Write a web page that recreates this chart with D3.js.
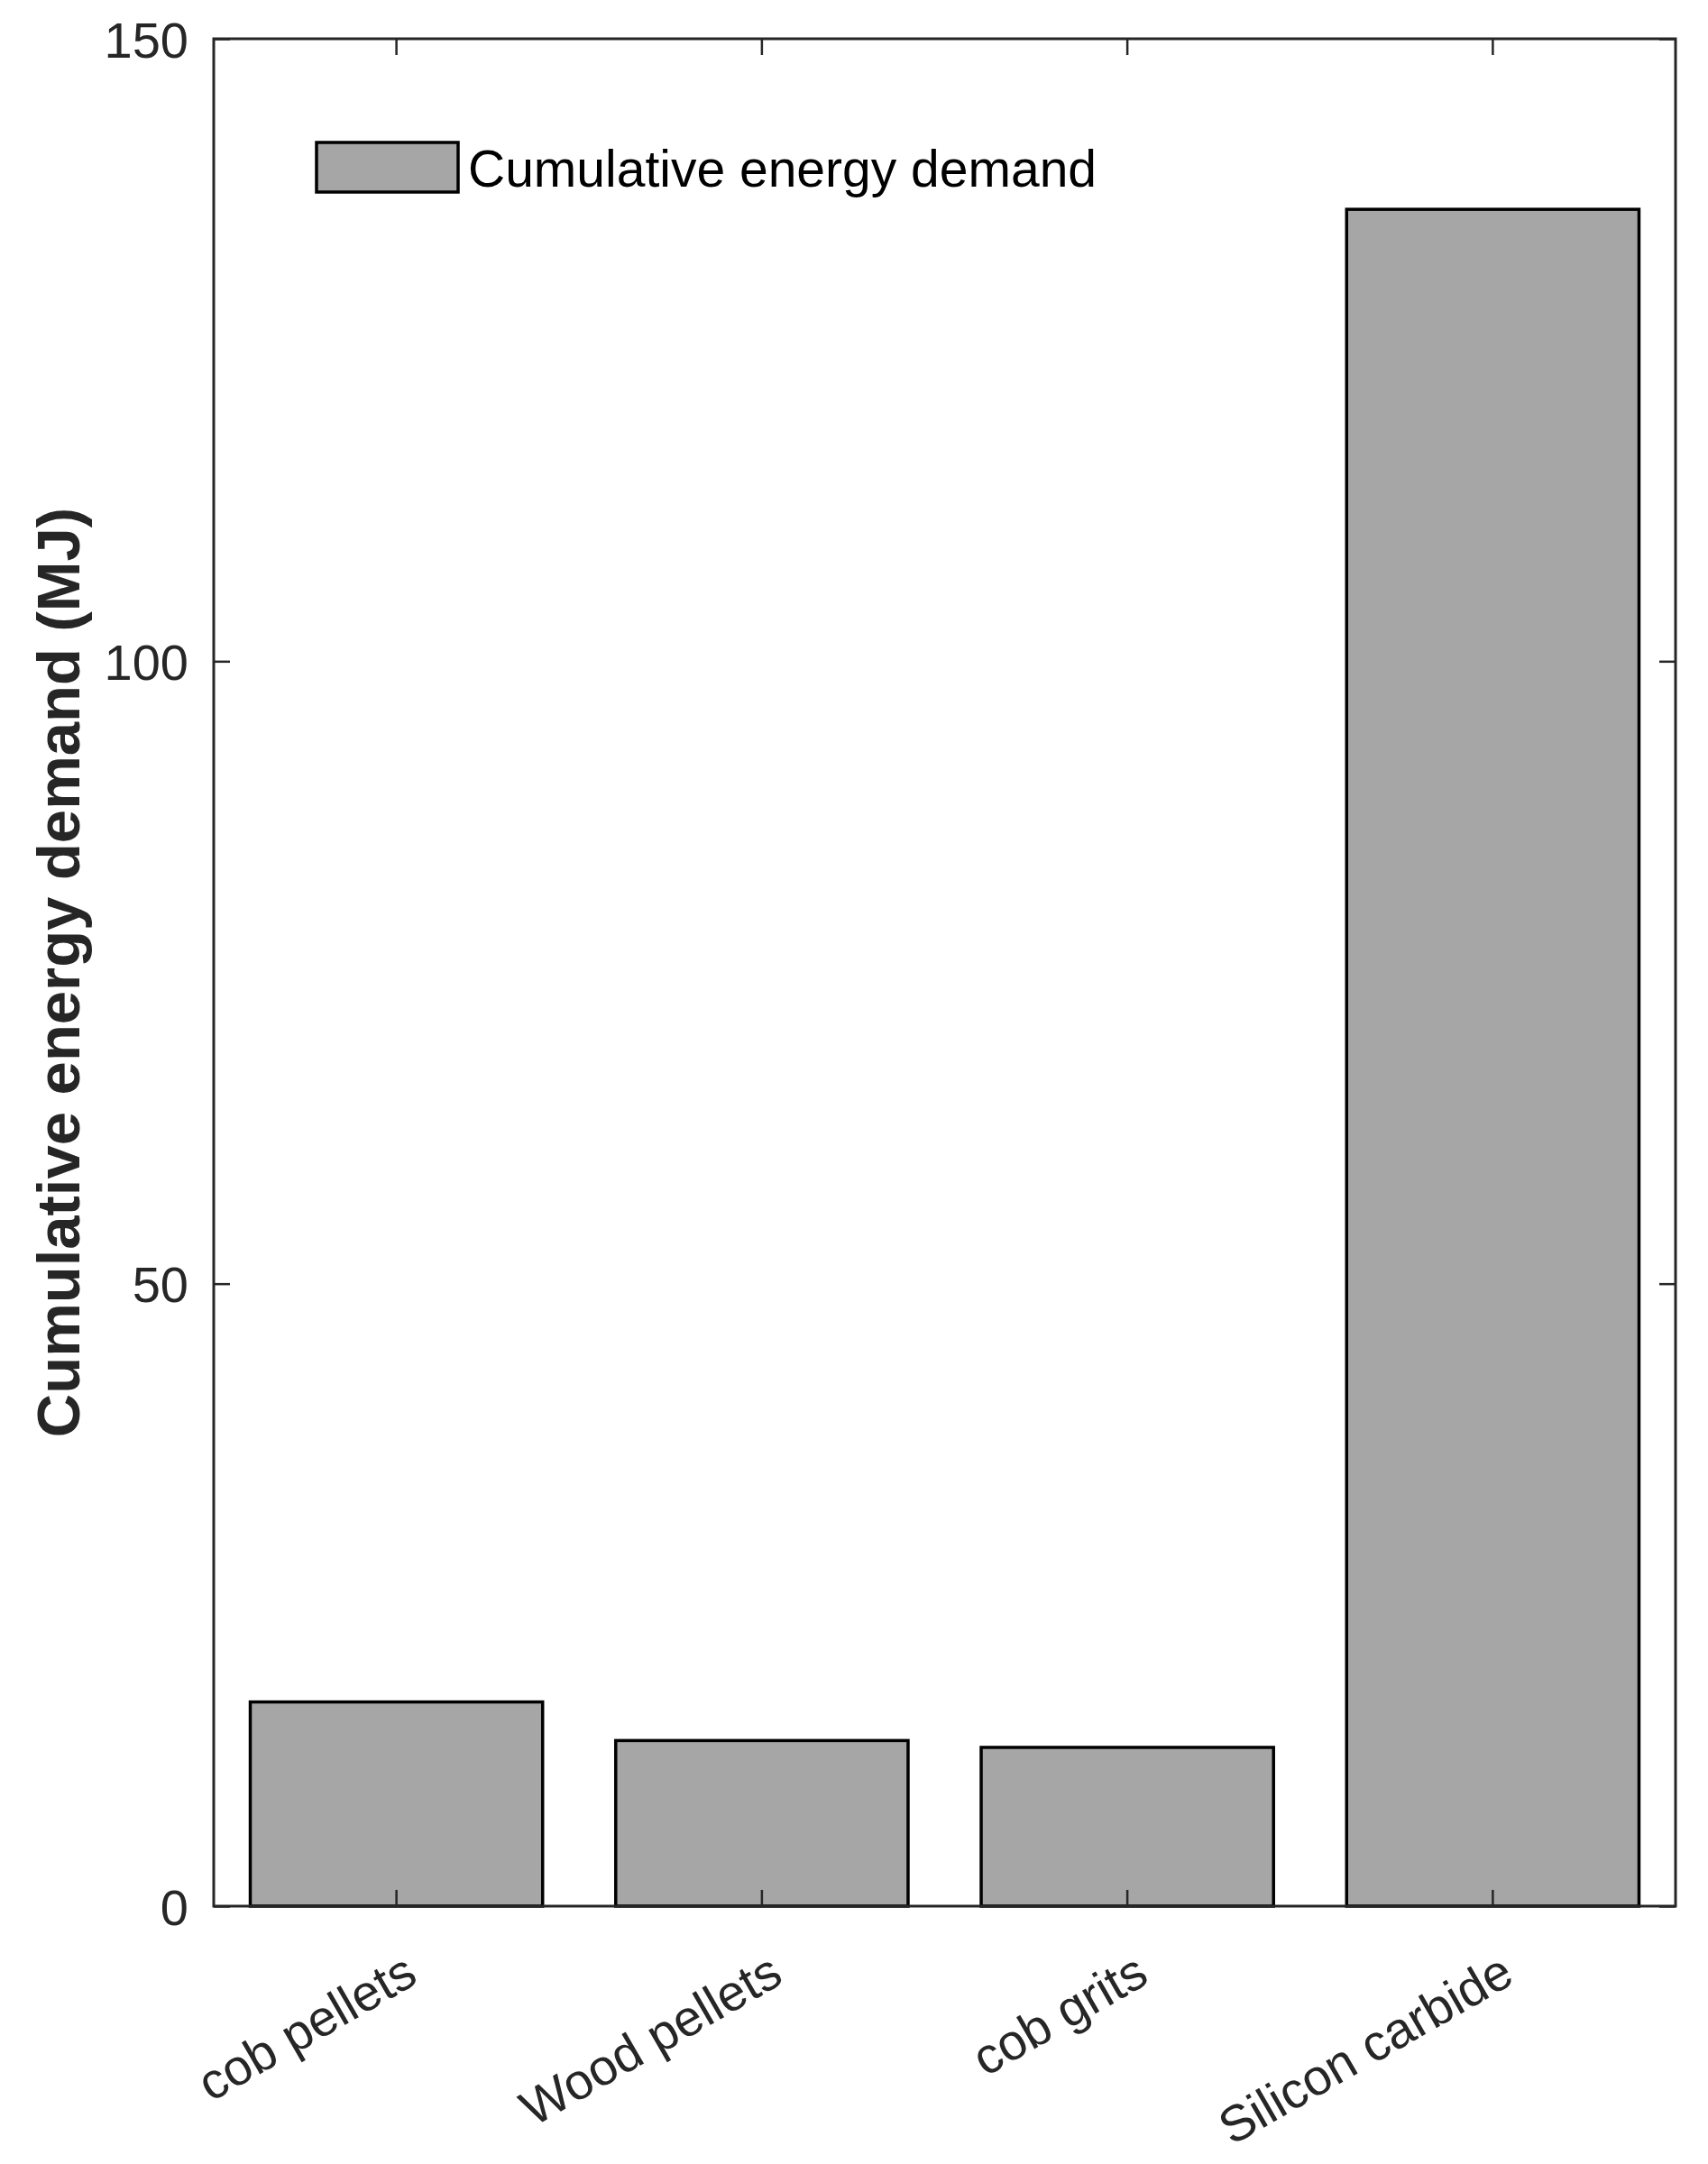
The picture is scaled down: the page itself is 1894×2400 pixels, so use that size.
<!DOCTYPE html>
<html>
<head>
<meta charset="utf-8">
<script src="https://cdn.jsdelivr.net/npm/d3@7"></script>
<style>
  html, body { margin: 0; padding: 0; background: #ffffff; }
  svg { display: block; }
  text { font-family: "Liberation Sans", Arial, Helvetica, sans-serif; }
</style>
</head>
<body>
<svg id="chart" width="1894" height="2400"></svg>
<script>
// ---- data ----
const categories = ["cob pellets", "Wood pellets", "cob grits", "Silicon carbide"];
const cedValues = [16.4, 13.3, 12.75, 136.3];
const yTickValues = [0, 50, 100, 150];
const seriesName = "Cumulative energy demand";
const yAxisTitle = "Cumulative energy demand (MJ)";

// ---- layout ----
const W = 1894, H = 2400;
const L = 237, R = 1858, T = 43, B = 2114;
const axisColor = "#262626";
const barFill = "#a6a6a6";

const svg = d3.select("#chart");
svg.append("rect").attr("width", W).attr("height", H).attr("fill", "#ffffff");

const x = d3.scaleBand().domain(categories).range([L, R]).paddingInner(0.2).paddingOuter(0.1);
const y = d3.scaleLinear().domain([0, 150]).range([B, T]);

// bars
svg.append("g").selectAll("rect").data(categories).join("rect")
  .attr("x", d => x(d))
  .attr("width", x.bandwidth())
  .attr("y", (d, i) => y(cedValues[i]))
  .attr("height", (d, i) => y(0) - y(cedValues[i]))
  .attr("fill", barFill)
  .attr("stroke", "#000000")
  .attr("stroke-width", 3.5);

// axes
function styleAxis(g) {
  g.selectAll(".tick line").attr("stroke", axisColor).attr("stroke-width", 2.5);
  g.select(".domain").remove();
}
const tickLen = 18;

const gLeft = svg.append("g").attr("transform", `translate(${L},0)`)
  .call(d3.axisLeft(y).tickValues(yTickValues).tickSize(-tickLen).tickPadding(28).tickFormat(d3.format("d")));
styleAxis(gLeft);
gLeft.selectAll(".tick text")
  .attr("fill", axisColor)
  .attr("font-size", 56)
  .attr("dy", "0.36em");

const gRight = svg.append("g").attr("transform", `translate(${R},0)`)
  .call(d3.axisRight(y).tickValues(yTickValues).tickSize(-tickLen).tickFormat(""));
styleAxis(gRight);

const gTop = svg.append("g").attr("transform", `translate(0,${T})`)
  .call(d3.axisTop(x).tickSize(-tickLen).tickFormat(""));
styleAxis(gTop);

const gBottom = svg.append("g").attr("transform", `translate(0,${B})`)
  .call(d3.axisBottom(x).tickSize(-tickLen));
styleAxis(gBottom);
gBottom.selectAll(".tick text")
  .attr("x", 0).attr("y", 0).attr("dy", 0)
  .attr("transform", "translate(26,84) rotate(-30)")
  .attr("text-anchor", "end")
  .attr("fill", axisColor)
  .attr("font-size", 56);

// box
svg.append("rect")
  .attr("x", L).attr("y", T)
  .attr("width", R - L).attr("height", B - T)
  .attr("fill", "none")
  .attr("stroke", axisColor)
  .attr("stroke-width", 3);

// y axis title
svg.append("text")
  .attr("transform", `translate(88,${(T + B) / 2}) rotate(-90)`)
  .attr("text-anchor", "middle")
  .attr("font-weight", "bold")
  .attr("font-size", 67)
  .attr("fill", "#262626")
  .text(yAxisTitle);

// legend
const lg = svg.append("g");
lg.append("rect")
  .attr("x", 351).attr("y", 158).attr("width", 157).attr("height", 55)
  .attr("fill", barFill).attr("stroke", "#000000").attr("stroke-width", 3.5);
lg.append("text")
  .attr("x", 519).attr("y", 186)
  .attr("dy", "0.36em")
  .attr("font-size", 57)
  .attr("fill", "#000000")
  .text(seriesName);
</script>
</body>
</html>
